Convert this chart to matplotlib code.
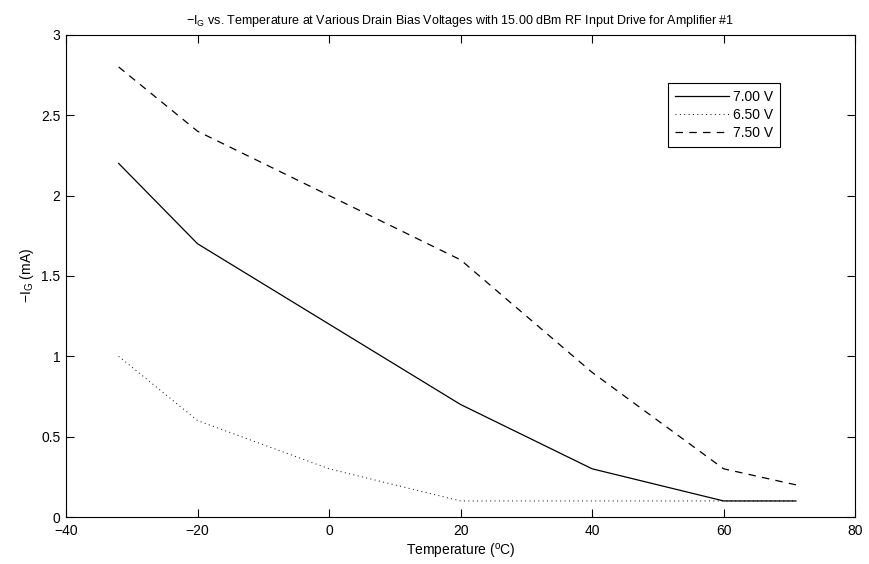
import matplotlib
matplotlib.use("Agg")
import matplotlib.pyplot as plt

plt.rcParams['font.family'] = ['Liberation Sans', 'DejaVu Sans']
plt.rcParams['mathtext.fontset'] = 'custom'
plt.rcParams['mathtext.rm'] = 'Liberation Sans'
plt.rcParams['mathtext.it'] = 'Liberation Sans'

temps = [-32, -20, 0, 20, 40, 60, 71]
ig_700 = [2.2, 1.7, 1.2, 0.7, 0.3, 0.1, 0.1]
ig_650 = [1.0, 0.6, 0.3, 0.1, 0.1, 0.1, 0.1]
ig_750 = [2.8, 2.4, 2.0, 1.6, 0.9, 0.3, 0.2]
labels = ['7.00 V', '6.50 V', '7.50 V']
xticks = [-40, -20, 0, 20, 40, 60, 80]
yticks = [0, 0.5, 1, 1.5, 2, 2.5, 3]

fig = plt.figure(figsize=(8.7, 5.64), dpi=100)
ax = fig.add_axes([0.0759, 0.0833, 0.907, 0.855])

ax.plot(temps, ig_700, color='black', lw=0.9, ls='-', label=labels[0])
ax.plot(temps, ig_650, color='black', lw=0.7, ls=(0, (1, 3.5)), label=labels[1])
ax.plot(temps, ig_750, color='black', lw=0.9, ls=(0, (6, 5)), label=labels[2])

ax.set_xlim(-40, 80)
ax.set_ylim(0, 3)
ax.set_xticks(xticks)
ax.set_yticks(yticks)
ax.set_xticklabels(['\u221240', '\u221220', '0', '20', '40', '60', '80'])
ax.set_yticklabels(['0', '0.5', '1', '1.5', '2', '2.5', '3'])
ax.tick_params(direction='in', top=True, right=True, length=6, width=0.8, labelsize=10)
ax.tick_params(axis='x', pad=5)
ax.tick_params(axis='y', pad=4)
for s in ax.spines.values():
    s.set_linewidth(0.8)

ax.set_xlabel('Temperature ($^{\\mathrm{o}}$C)', fontsize=10, labelpad=3)
ax.set_ylabel('\u2212I$_{\\mathrm{G}}$ (mA)', fontsize=10, labelpad=4)
ax.set_title('\u2212I$_{\\mathrm{G}}$ vs. Temperature at Various Drain Bias Voltages with 15.00 dBm RF Input Drive for Amplifier #1',
             fontsize=9, pad=8)

leg = ax.legend(loc='upper left', bbox_to_anchor=(0.763, 0.9), fontsize=10,
                frameon=True, fancybox=False, edgecolor='black', framealpha=1,
                handlelength=3.9, handletextpad=0.3, borderpad=0.5, labelspacing=0.3,
                borderaxespad=0)
leg.get_frame().set_linewidth(0.8)

fig.savefig('out.png', dpi=100)
